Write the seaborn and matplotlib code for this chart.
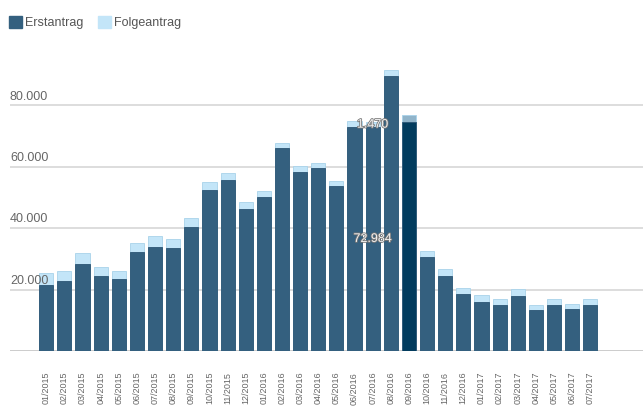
import pandas as pd
import matplotlib
matplotlib.use("Agg")
import matplotlib.pyplot as plt
import matplotlib.transforms as mtransforms
import matplotlib.patheffects as pe
from matplotlib.patches import Patch
import seaborn as sns

# Daten
monate = ["01/2015", "02/2015", "03/2015", "04/2015", "05/2015", "06/2015", "07/2015", "08/2015",
          "09/2015", "10/2015", "11/2015", "12/2015", "01/2016", "02/2016", "03/2016", "04/2016",
          "05/2016", "06/2016", "07/2016", "08/2016", "09/2016", "10/2016", "11/2016", "12/2016",
          "01/2017", "02/2017", "03/2017", "04/2017", "05/2017", "06/2017", "07/2017"]
erstantrag = [21500, 22800, 28400, 24300, 23600, 32400, 34000, 33400, 40500, 52500, 55800, 46300,
              50200, 66000, 58200, 59500, 53800, 73100, 72984, 89600, 74700, 30700, 24300, 18700,
              16100, 15000, 17900, 13400, 15000, 13700, 15000]
folgeantrag = [3800, 3400, 3600, 3000, 2600, 2900, 3300, 3200, 2800, 2400, 2300, 2100,
               2000, 1700, 1900, 1600, 1700, 1700, 1470, 1800, 2100, 1800, 2300, 1700,
               2000, 1800, 2200, 1600, 1800, 1700, 1800]
y_ticks = [20000, 40000, 60000, 80000]
y_tick_labels = ["20.000", "40.000", "60.000", "80.000"]
markiert = "09/2016"     # hervorgehobener Balken
beschriftet = "07/2016"  # Balken mit Werten

c_erst = "#34607f"
c_folge = "#c3e5f8"
c_erst_hl = "#023c5e"
c_folge_hl = "#90b4ca"

df = pd.DataFrame({"Monat": monate, "Erstantrag": erstantrag, "Folgeantrag": folgeantrag})
df["Gesamt"] = df["Erstantrag"] + df["Folgeantrag"]

sns.set_style("white")
plt.rcParams["font.family"] = ["Liberation Sans", "DejaVu Sans"]

fig = plt.figure(figsize=(6.43, 4.07), dpi=100)
ax = fig.add_axes([10 / 643, 56 / 407, 633 / 643, 291.7 / 407])

pal_folge = [c_folge_hl if m == markiert else c_folge for m in monate]
pal_erst = [c_erst_hl if m == markiert else c_erst for m in monate]

sns.barplot(data=df, x="Monat", y="Gesamt", hue="Monat", palette=pal_folge, legend=False,
            width=0.78, saturation=1, edgecolor="#a9d3ea", linewidth=0.6, ax=ax, zorder=2)
sns.barplot(data=df, x="Monat", y="Erstantrag", hue="Monat", palette=pal_erst, legend=False,
            width=0.78, saturation=1, edgecolor="#2b5574", linewidth=0.6, ax=ax, zorder=3)

ax.set_xlim(-2.0, 32.91)
ax.set_ylim(0, 95000)
ax.set_xlabel("")
ax.set_ylabel("")
for s in ax.spines.values():
    s.set_visible(False)

# Gitterlinien und y-Beschriftung
ax.set_yticks(y_ticks)
ax.set_yticklabels([])
ax.tick_params(axis="y", length=0)
ax.yaxis.grid(True, color="#dddddd", linewidth=1.4)
ax.set_axisbelow(True)
ax.axhline(0, color="#cccccc", linewidth=1.4, zorder=1)
trans = mtransforms.blended_transform_factory(ax.transAxes, ax.transData)
for v, lab in zip(y_ticks, y_tick_labels):
    ax.annotate(lab, xy=(0, v), xycoords=trans, xytext=(0, 2), textcoords="offset points",
                ha="left", va="bottom", fontsize=9, color="#666666", zorder=5)

ax.tick_params(axis="x", length=0, pad=15, labelsize=6.5, labelcolor="#666666", rotation=90)

# Werte am beschrifteten Balken
i = monate.index(beschriftet)
e, f = erstantrag[i], folgeantrag[i]
stroke = [pe.withStroke(linewidth=1.2, foreground="#777777")]
for yv, val in [(e / 2, e), (e + f / 2, f)]:
    ax.text(i, yv, f"{val:,}".replace(",", "."), ha="center", va="center",
            fontsize=9, color="#f2f2f2", zorder=6, path_effects=stroke)

# Legende
handles = [Patch(facecolor=c_erst, edgecolor=c_erst, label="Erstantrag"),
           Patch(facecolor=c_folge, edgecolor=c_folge, label="Folgeantrag")]
fig.legend(handles=handles, loc="upper left", bbox_to_anchor=(4 / 643, 1 - 11 / 407), ncol=2,
           frameon=False, fontsize=9, labelcolor="#555555", handlelength=1.0, handleheight=1.1,
           handletextpad=0.25, columnspacing=1.2, borderaxespad=0)

fig.savefig("out.png", dpi=100)
